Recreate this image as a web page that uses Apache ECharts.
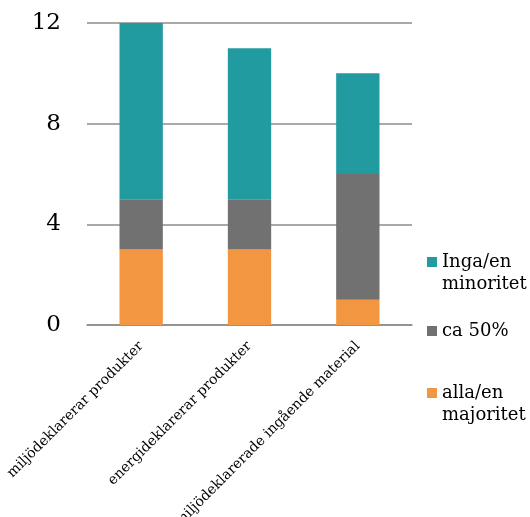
<!DOCTYPE html>
<html><head><meta charset="utf-8">
<script src="https://cdn.jsdelivr.net/npm/echarts@6/dist/echarts.min.js"></script>
<style>html,body{margin:0;padding:0;background:#fff}#c{width:530px;height:517px}</style>
</head><body><div id="c"></div>
<script>
const categories = ['miljödeklarerar produkter', 'energideklarerar produkter', 'miljödeklarerade ingående material'];
const seriesNames = ['alla/en majoritet', 'ca 50%', 'Inga/en minoritet'];
const allaMajoritet = [3, 3, 1];
const ca50 = [2, 2, 5];
const ingaMinoritet = [7, 6, 4];
const yTicks = [0, 4, 8, 12];
const colors = ['#F39641', '#717171', '#219BA0'];

const font = 'DejaVu Serif';
const chart = echarts.init(document.getElementById('c'));
const values = [allaMajoritet, ca50, ingaMinoritet];
const iconCenters = [393, 331, 262];
const legendText = {};
seriesNames.forEach(n => { legendText[n] = n === 'ca 50%' ? n : n.replace(' ', '\n'); });
chart.setOption({
  animation: false,
  textStyle: { fontFamily: font },
  grid: { left: 87, right: 118, top: 23, bottom: 192, outerBoundsMode: 'none', containLabel: false },
  legend: seriesNames.map((n, i) => ({
    data: [n], left: 427, top: iconCenters[i] - 5, padding: 0,
    itemWidth: 10, itemHeight: 10, icon: 'rect', selectedMode: false,
    formatter: function () { return ' '; },
    textStyle: { fontSize: 10, lineHeight: 10, fontFamily: font }
  })),
  graphic: {
    elements: seriesNames.map((n, i) => ({
      type: 'text', x: 442, y: iconCenters[i] - 11, z: 100,
      style: {
        text: legendText[n], fontFamily: font, fontSize: 18, lineHeight: 22,
        fill: '#000', verticalAlign: 'top', align: 'left'
      }
    }))
  },
  xAxis: {
    type: 'category', data: categories,
    axisLine: { lineStyle: { color: '#8c8c8c', width: 1.5 } },
    axisTick: { length: 5, lineStyle: { color: '#8c8c8c', width: 1.5 } },
    axisLabel: { rotate: 45, interval: 0, margin: 19, fontFamily: font, fontSize: 14, color: '#000' }
  },
  yAxis: {
    type: 'value', min: 0, max: 12, interval: 4,
    axisLine: { show: false }, axisTick: { show: false },
    splitLine: { lineStyle: { color: '#8c8c8c', width: 1.5 } },
    axisLabel: { fontFamily: font, fontSize: 23, color: '#000', margin: 26 }
  },
  series: seriesNames.map((n, i) => ({
    name: n, type: 'bar', stack: 'a', barWidth: '40%',
    itemStyle: { color: colors[i] }, data: values[i]
  }))
});
</script></body></html>
